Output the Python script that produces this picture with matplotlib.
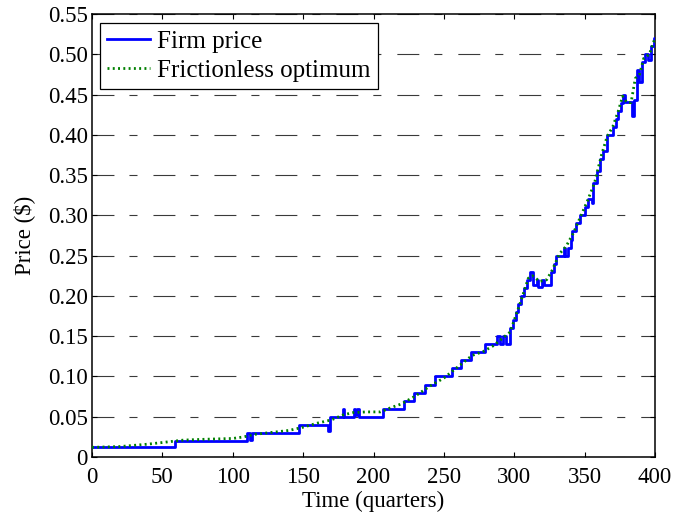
import numpy as np
import matplotlib
matplotlib.use("Agg")
import matplotlib.pyplot as plt

plt.rcParams['font.family'] = ['Liberation Serif', 'DejaVu Serif']
plt.rcParams['lines.scale_dashes'] = False

# firm price: (quarter, price) at each change, held until the next one
firm_t = [0, 59, 110, 112, 114, 147, 168, 169, 178, 179, 186, 187, 188.5, 189.5,
          207, 222, 229, 236.6, 244, 256, 262, 269, 279, 288, 290, 292, 294,
          297, 299, 301, 303, 305, 307, 309, 311, 313, 316, 317, 320, 321,
          326, 328, 330, 335, 336, 338, 340, 341, 344, 347, 350, 352.5, 355,
          356, 359, 361, 363, 366, 370, 372, 374, 376, 377.5, 379, 384, 385,
          387, 388.5, 390.5, 393, 395, 397, 399, 400]
firm_p = [0.012, 0.020, 0.030, 0.021, 0.030, 0.040, 0.032, 0.050, 0.060, 0.050, 0.060, 0.052, 0.060, 0.050,
          0.060, 0.070, 0.080, 0.090, 0.100, 0.110, 0.120, 0.130, 0.140, 0.150, 0.140, 0.150, 0.140,
          0.160, 0.170, 0.180, 0.190, 0.200, 0.210, 0.220, 0.230, 0.213, 0.220, 0.211, 0.220, 0.213,
          0.230, 0.240, 0.250, 0.260, 0.250, 0.260, 0.270, 0.280, 0.290, 0.300, 0.310, 0.320, 0.315,
          0.340, 0.355, 0.370, 0.380, 0.400, 0.410, 0.420, 0.430, 0.440, 0.450, 0.441, 0.423, 0.443,
          0.480, 0.465, 0.490, 0.500, 0.493, 0.510, 0.520, 0.520]

# frictionless optimum
opt_t = [0, 20, 40, 55, 65, 80, 100, 108, 115, 125, 140, 150, 160, 170, 178, 185,
         195, 205, 212, 220, 230, 240, 250, 260, 270, 278, 285, 292, 297, 300,
         305, 310, 313, 318, 323, 327, 332, 337, 342, 347, 352, 357, 362, 366,
         370, 374, 377, 380, 383, 386, 389, 392, 396, 400]
opt_p = [0.012, 0.013, 0.016, 0.019, 0.021, 0.022, 0.023, 0.025, 0.028, 0.030, 0.033, 0.037, 0.042, 0.046, 0.052, 0.055,
         0.056, 0.056, 0.061, 0.066, 0.076, 0.088, 0.098, 0.112, 0.126, 0.131, 0.138, 0.148, 0.155, 0.170,
         0.195, 0.222, 0.225, 0.218, 0.220, 0.232, 0.252, 0.262, 0.278, 0.298, 0.318, 0.340, 0.375, 0.398,
         0.410, 0.430, 0.448, 0.440, 0.440, 0.470, 0.475, 0.495, 0.500, 0.520]

x_ticks = [0, 50, 100, 150, 200, 250, 300, 350, 400]
y_ticks = [0, 0.05, 0.10, 0.15, 0.20, 0.25, 0.30, 0.35, 0.40, 0.45, 0.50, 0.55]
y_labels = ['0', '0.05', '0.10', '0.15', '0.20', '0.25', '0.30', '0.35', '0.40', '0.45', '0.50', '0.55']

fig = plt.figure(figsize=(6.79, 5.2), dpi=100)
ax = fig.add_axes([92 / 679, 1 - 457 / 520, 563 / 679, 443 / 520])

ax.plot(firm_t, firm_p, color='#0000ff', lw=2.0, drawstyle='steps-post', label='Firm price', zorder=3)
ax.plot(opt_t, opt_p, color='#008000', lw=2.0, linestyle=(0, (1.4, 2.4)), label='Frictionless optimum', zorder=4)

ax.set_xlim(0, 400)
ax.set_ylim(0, 0.55)
ax.set_xticks(x_ticks)
ax.set_yticks(y_ticks)
ax.set_yticklabels(y_labels)
ax.tick_params(direction='in', length=3.6, width=0.8, top=True, right=True, labelsize=16.5)
ax.tick_params(axis='x', pad=7)
ax.tick_params(axis='y', pad=3)
for s in ax.spines.values():
    s.set_linewidth(1.1)

ax.yaxis.grid(True, color='#3a3a3a', lw=0.8, linestyle=(0, (15.8, 10.8, 5.8, 11.5)))
ax.set_axisbelow(True)

ax.set_xlabel('Time (quarters)', fontsize=16.5, labelpad=2)
ax.set_ylabel('Price ($)', fontsize=16.5, labelpad=9)

leg = ax.legend(loc='upper left', bbox_to_anchor=(0.0142, 0.98), borderaxespad=0,
                fontsize=18, fancybox=False, framealpha=1, edgecolor='black',
                handlelength=1.7, handletextpad=0.3, labelspacing=0.25, borderpad=0.3)
leg.get_frame().set_linewidth(0.9)

fig.savefig('out.png', dpi=100)
